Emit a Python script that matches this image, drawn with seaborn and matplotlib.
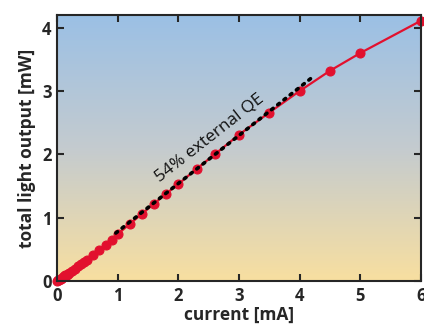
import numpy as np
import pandas as pd
import matplotlib
matplotlib.use("Agg")
import matplotlib.pyplot as plt
from matplotlib.colors import LinearSegmentedColormap
import seaborn as sns

current_ma = [0, 0.02, 0.04, 0.06, 0.08, 0.1, 0.12, 0.14, 0.16, 0.18, 0.2,
              0.25, 0.3, 0.35, 0.4, 0.45, 0.5, 0.6, 0.7, 0.8, 0.9, 1.0,
              1.2, 1.4, 1.6, 1.8, 2.0, 2.3, 2.6, 3.0, 3.5, 4.0, 4.5, 5.0, 6.0]
light_mw = [0, 0.01, 0.02, 0.035, 0.05, 0.06, 0.075, 0.09, 0.1, 0.115, 0.13,
            0.16, 0.195, 0.23, 0.265, 0.3, 0.335, 0.41, 0.49, 0.57, 0.65, 0.74,
            0.9, 1.06, 1.22, 1.38, 1.53, 1.77, 2.0, 2.31, 2.66, 3.0, 3.32, 3.6, 4.11]

# 54% external QE reference line (end points)
qe_current = [0.97, 4.2]
qe_light = [0.757, 3.21]

x_ticks = [0, 1, 2, 3, 4, 5, 6]
y_ticks = [0, 1, 2, 3, 4]

df = pd.DataFrame({"current": current_ma, "light": light_mw})

sns.set_style("ticks")
plt.rcParams["font.family"] = ["Open Sans", "DejaVu Sans"]

fig = plt.figure(figsize=(4.24, 3.29), dpi=100)
ax = fig.add_axes([0.1344, 0.1459, 0.8585, 0.8085])

# gradient background: blue at the top, peach at the bottom
cmap = LinearSegmentedColormap.from_list("bg", ["#f8dfa0", "#c4cbcf", "#9bc0e5"])
grad = np.linspace(0, 1, 256).reshape(-1, 1)
ax.imshow(grad, cmap=cmap, origin="lower", aspect="auto",
          extent=[0, 6, 0, 4.2], zorder=0)

sns.lineplot(data=df, x="current", y="light", ax=ax, color="#e2102e",
             linewidth=1.6, marker="o", markersize=6.5,
             markeredgecolor="#e2102e", zorder=3, clip_on=False)
ax.plot(qe_current, qe_light, color="black", linestyle=(0, (0.6, 1.6)),
        linewidth=2.6, dash_capstyle="round", zorder=4)

ax.text(2.52, 2.26, "54% external QE", rotation=38, ha="center", va="center",
        fontsize=12.5, color="#111111", zorder=5)

ax.set_xlim(0, 6)
ax.set_ylim(0, 4.2)
ax.set_xticks(x_ticks)
ax.set_yticks(y_ticks)
ax.tick_params(direction="in", length=5, width=1.5, top=True, right=True,
               labelsize=12, pad=4)
for lab in ax.get_xticklabels() + ax.get_yticklabels():
    lab.set_fontweight("bold")
ax.set_xlabel("current [mA]", fontsize=12.5, fontweight="bold", labelpad=1)
ax.set_ylabel("total light output [mW]", fontsize=12.5, fontweight="bold", labelpad=4)
for side in ax.spines.values():
    side.set_linewidth(1.5)
    side.set_zorder(6)

fig.savefig("out.png", dpi=100)
